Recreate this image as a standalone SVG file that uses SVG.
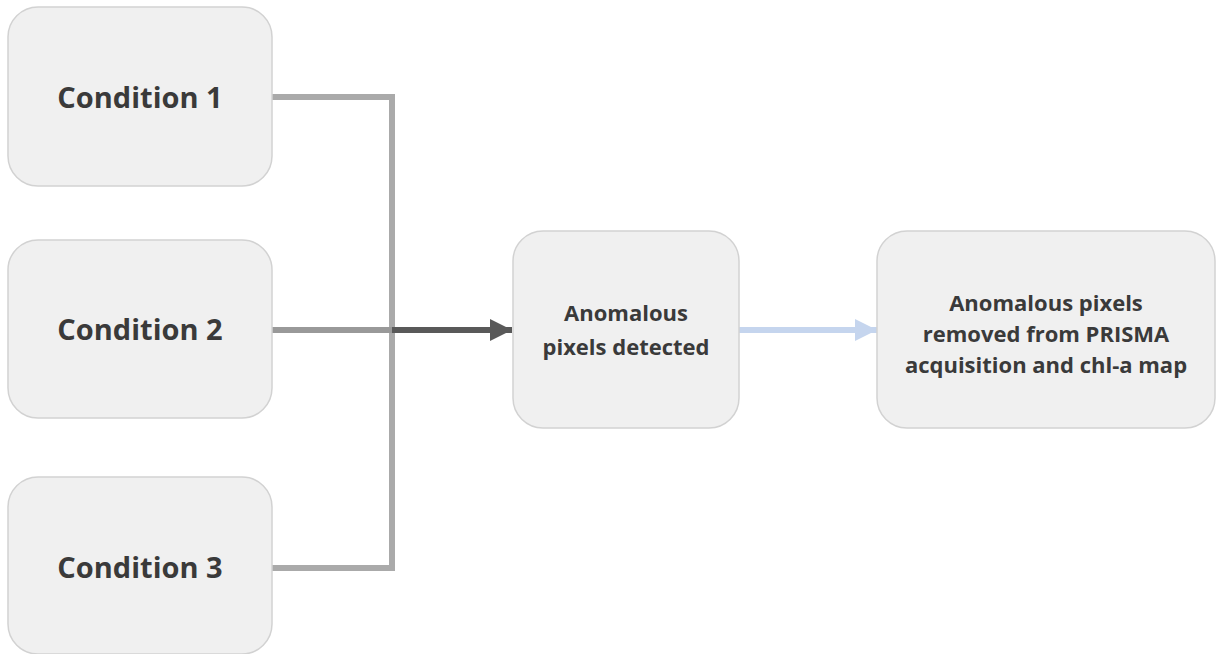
<svg xmlns="http://www.w3.org/2000/svg" width="1217" height="654" viewBox="0 0 1217 654">
<defs>
<style>
.box{fill:#f0f0f0;stroke:#d2d2d2;stroke-width:1.5}
.t{font-family:"Open Sans","Liberation Sans",sans-serif;font-weight:bold;fill:#3a3a3a;text-anchor:middle}
.big{font-size:29px}
.sm{font-size:22px}
</style>
<marker id="ad" viewBox="0 0 10 10" refX="10" refY="5" markerWidth="3.7" markerHeight="3.7" orient="auto" markerUnits="strokeWidth"><path d="M0,0L10,5L0,10z" fill="#595959"/></marker>
<marker id="ab" viewBox="0 0 10 10" refX="10" refY="5" markerWidth="3.7" markerHeight="3.7" orient="auto" markerUnits="strokeWidth"><path d="M0,0L10,5L0,10z" fill="#c5d5ee"/></marker>
</defs>
<g id="connectors" fill="none" stroke-width="6">
<path d="M272,97H392V568H272" stroke="#aaaaaa"/>
<path d="M272,330H392" stroke="#999999"/>
<path d="M392,330H512" stroke="#595959" marker-end="url(#ad)"/>
<path d="M739,330H877" stroke="#c5d5ee" marker-end="url(#ab)"/>
</g>
<g id="c1"><rect class="box" x="8" y="7" width="264" height="179" rx="30"/><text class="t big" x="140" y="108">Condition 1</text></g>
<g id="c2"><rect class="box" x="8" y="240" width="264" height="178" rx="30"/><text class="t big" x="140" y="340">Condition 2</text></g>
<g id="c3"><rect class="box" x="8" y="477" width="264" height="177" rx="30"/><text class="t big" x="140" y="578">Condition 3</text></g>
<g id="detected"><rect class="box" x="513" y="231" width="226" height="197" rx="30"/><text class="t sm" x="626" y="321">Anomalous</text><text class="t sm" x="626" y="355">pixels detected</text></g>
<g id="removed"><rect class="box" x="877" y="231" width="338" height="197" rx="30"/><text class="t sm" x="1046" y="311">Anomalous pixels</text><text class="t sm" x="1046" y="342">removed from PRISMA</text><text class="t sm" x="1046" y="373">acquisition and chl-a map</text></g>
</svg>
